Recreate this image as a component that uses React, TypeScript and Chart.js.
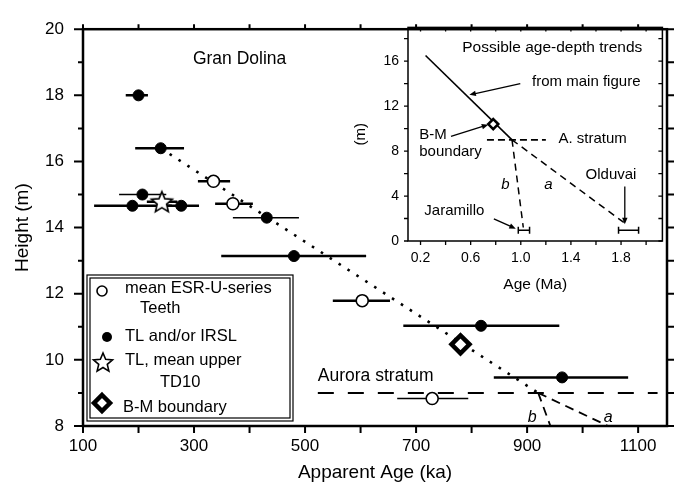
import React, { useEffect, useRef } from 'react';
import { Chart, registerables } from 'chart.js';
Chart.register(...registerables);

const FONT = '"Liberation Sans", Arial, Helvetica, sans-serif';

// ---------------- Main figure (Gran Dolina) ----------------
const tlAge = [200, 240, 207, 189, 277, 431, 480, 817, 963];
const tlHeight = [18.0, 16.4, 15.0, 14.66, 14.66, 14.3, 13.14, 11.03, 9.47];
const tlLow = [177, 194, 165, 120, 245, 370, 349, 677, 840];
const tlHigh = [217, 282, 250, 260, 309, 489, 610, 958, 1082];
const tlBarWidth = [2.5, 2.5, 1.4, 2.5, 2.5, 1.4, 2.5, 2.5, 2.5];

const esrAge = [335, 370, 603, 729];
const esrHeight = [15.4, 14.72, 11.79, 8.83];
const esrLow = [307, 338, 550, 666];
const esrHigh = [365, 406, 653, 794];
const esrBarWidth = [2.5, 2.5, 2.5, 1.4];

const starAge = [242];
const starHeight = [14.78];
const starLow = [215];
const starHigh = [270];

const bmAge = [780];
const bmHeight = [10.47];

const trendAge = [240, 920];
const trendHeight = [16.4, 9.0];
const trendAAge = [920, 1046];
const trendAHeight = [9.0, 8.0];
const trendBAge = [920, 942];
const trendBHeight = [9.0, 8.0];
const auroraAge = [523, 1135];
const auroraHeight = [9.0, 9.0];

const mainXTicks = [100, 200, 300, 400, 500, 600, 700, 800, 900, 1000, 1100];
const mainXLabels = [100, 300, 500, 700, 900, 1100];
const mainYTicks = [8, 9, 10, 11, 12, 13, 14, 15, 16, 17, 18, 19, 20];
const mainYLabels = [8, 10, 12, 14, 16, 18, 20];

// ---------------- Inset (Possible age-depth trends) ----------------
const insetTrendAge = [0.24, 0.93];
const insetTrendDepth = [16.5, 9.0];
const insetBMAge = [0.78];
const insetBMDepth = [10.4];
const insetStratumAge = [0.73, 1.2];
const insetStratumDepth = [9.0, 9.0];
const insetAAge = [0.93, 1.84];
const insetADepth = [9.0, 1.5];
const insetBAge = [0.93, 1.02];
const insetBDepth = [9.0, 1.2];
const jaramilloAge = [0.98, 1.07];
const jaramilloDepth = [0.95, 0.95];
const olduvaiAge = [1.78, 1.94];
const olduvaiDepth = [0.95, 0.95];

const insetXTicks = [0.2, 0.4, 0.6, 0.8, 1.0, 1.2, 1.4, 1.6, 1.8, 2.0];
const insetXLabels = ['0.2', '0.6', '1.0', '1.4', '1.8'];
const insetYTicks = [0, 2, 4, 6, 8, 10, 12, 14, 16, 18];
const insetYLabels = [0, 4, 8, 12, 16];

const pts = (xs: number[], ys: number[]) => xs.map((x, i) => ({ x, y: ys[i] }));

function drawStarPath(g: CanvasRenderingContext2D, cx: number, cy: number, r: number) {
  g.beginPath();
  for (let i = 0; i < 10; i++) {
    const a = -Math.PI / 2 + (i * Math.PI) / 5;
    const rr = i % 2 === 0 ? r : r * 0.45;
    const px = cx + rr * Math.cos(a);
    const py = cy + rr * Math.sin(a);
    if (i === 0) g.moveTo(px, py);
    else g.lineTo(px, py);
  }
  g.closePath();
}

function makeStar(r: number, lw: number) {
  const size = Math.ceil(2 * r + lw * 2 + 2);
  const c = document.createElement('canvas');
  c.width = size;
  c.height = size;
  const g = c.getContext('2d')!;
  drawStarPath(g, size / 2, size / 2 + r * 0.08, r);
  g.fillStyle = '#fff';
  g.fill();
  g.lineWidth = lw;
  g.strokeStyle = '#000';
  g.lineJoin = 'miter';
  g.stroke();
  return c;
}

function arrow(ctx: CanvasRenderingContext2D, x1: number, y1: number, x2: number, y2: number, head = 7, lw = 1.3) {
  ctx.save();
  ctx.strokeStyle = '#000';
  ctx.fillStyle = '#000';
  ctx.lineWidth = lw;
  const a = Math.atan2(y2 - y1, x2 - x1);
  ctx.beginPath();
  ctx.moveTo(x1, y1);
  ctx.lineTo(x2 - head * 0.7 * Math.cos(a), y2 - head * 0.7 * Math.sin(a));
  ctx.stroke();
  ctx.beginPath();
  ctx.moveTo(x2, y2);
  ctx.lineTo(x2 - head * Math.cos(a - 0.4), y2 - head * Math.sin(a - 0.4));
  ctx.lineTo(x2 - head * Math.cos(a + 0.4), y2 - head * Math.sin(a + 0.4));
  ctx.closePath();
  ctx.fill();
  ctx.restore();
}

function text(ctx: CanvasRenderingContext2D, s: string, x: number, y: number, size: number, align: CanvasTextAlign = 'left', style = '') {
  ctx.font = `${style} ${size}px ${FONT}`;
  ctx.textAlign = align;
  ctx.textBaseline = 'middle';
  ctx.fillStyle = '#000';
  ctx.fillText(s, x, y);
}

function errorBars(lo: number[], hi: number[], h: number[], w: number[]) {
  return lo.map((l, i) => ({
    data: [{ x: l, y: h[i] }, { x: hi[i], y: h[i] }],
    showLine: true,
    borderColor: '#000',
    borderWidth: w[i],
    pointRadius: 0,
    order: 10,
  }));
}

const mainPlugin = {
  id: 'mainDecor',
  afterDraw(chart: any) {
    const { ctx, chartArea: ca } = chart;
    const x = chart.scales.x;
    const y = chart.scales.y;
    ctx.save();
    ctx.strokeStyle = '#000';
    ctx.lineWidth = 2.5;
    ctx.strokeRect(ca.left, ca.top, ca.right - ca.left, ca.bottom - ca.top);
    ctx.lineWidth = 2;
    ctx.beginPath();
    mainXTicks.forEach((v) => {
      const px = x.getPixelForValue(v);
      ctx.moveTo(px, ca.bottom);
      ctx.lineTo(px, ca.bottom + 7);
      ctx.moveTo(px, ca.top);
      ctx.lineTo(px, ca.top - 5);
    });
    mainYTicks.forEach((v) => {
      const py = y.getPixelForValue(v);
      const len = mainYLabels.includes(v) ? 9 : 5;
      ctx.moveTo(ca.left, py);
      ctx.lineTo(ca.left - len, py);
      ctx.moveTo(ca.right, py);
      ctx.lineTo(ca.right + 7, py);
    });
    ctx.stroke();

    // axis titles
    text(ctx, 'Apparent Age (ka)', (ca.left + ca.right) / 2, ca.bottom + 47, 19, 'center');
    ctx.save();
    ctx.translate(23, (ca.top + ca.bottom) / 2);
    ctx.rotate(-Math.PI / 2);
    text(ctx, 'Height (m)', 0, 0, 19, 'center');
    ctx.restore();

    // annotations
    text(ctx, 'Gran Dolina', x.getPixelForValue(298), y.getPixelForValue(19.1), 17.5);
    text(ctx, 'Aurora stratum', x.getPixelForValue(523), y.getPixelForValue(9.5), 17.5);
    text(ctx, 'b', x.getPixelForValue(909), y.getPixelForValue(8.26), 16, 'center', 'italic');
    text(ctx, 'a', x.getPixelForValue(1046), y.getPixelForValue(8.26), 16, 'center', 'italic');

    // legend box
    const L = ca.left + 4;
    const T = ca.bottom - 151;
    const R = ca.left + 210;
    const B = ca.bottom - 5;
    ctx.lineWidth = 1.2;
    ctx.strokeRect(L, T, R - L, B - T);
    ctx.strokeRect(L + 3, T + 3, R - L - 6, B - T - 6);

    // legend markers
    ctx.lineWidth = 1.6;
    ctx.beginPath();
    ctx.arc(L + 15, T + 16, 5, 0, Math.PI * 2);
    ctx.fillStyle = '#fff';
    ctx.fill();
    ctx.stroke();
    ctx.beginPath();
    ctx.arc(L + 20, T + 62, 5, 0, Math.PI * 2);
    ctx.fillStyle = '#000';
    ctx.fill();
    drawStarPath(ctx, L + 16, T + 88, 10);
    ctx.fillStyle = '#fff';
    ctx.fill();
    ctx.lineWidth = 1.6;
    ctx.stroke();
    ctx.beginPath();
    ctx.moveTo(L + 15, T + 120);
    ctx.lineTo(L + 23, T + 128);
    ctx.lineTo(L + 15, T + 136);
    ctx.lineTo(L + 7, T + 128);
    ctx.closePath();
    ctx.fillStyle = '#fff';
    ctx.fill();
    ctx.lineWidth = 4.5;
    ctx.stroke();

    text(ctx, 'mean ESR-U-series', L + 38, T + 13, 16.5);
    text(ctx, 'Teeth', L + 53, T + 33, 16.5);
    text(ctx, 'TL and/or IRSL', L + 38, T + 61, 16.5);
    text(ctx, 'TL, mean upper', L + 38, T + 85, 16.5);
    text(ctx, 'TD10', L + 73, T + 107, 16.5);
    text(ctx, 'B-M boundary', L + 36, T + 132, 16.5);
    ctx.restore();
  },
};

const insetPlugin = {
  id: 'insetDecor',
  afterDraw(chart: any) {
    const { ctx, chartArea: ca } = chart;
    const x = chart.scales.x;
    const y = chart.scales.y;
    const X = (v: number) => x.getPixelForValue(v);
    const Y = (v: number) => y.getPixelForValue(v);
    ctx.save();
    ctx.strokeStyle = '#000';
    ctx.lineWidth = 1.5;
    ctx.strokeRect(ca.left, ca.top, ca.right - ca.left, ca.bottom - ca.top);
    ctx.lineWidth = 1.3;
    ctx.beginPath();
    insetXTicks.forEach((v) => {
      const px = X(v);
      ctx.moveTo(px, ca.bottom);
      ctx.lineTo(px, ca.bottom + 4);
      ctx.moveTo(px, ca.top);
      ctx.lineTo(px, ca.top + 4);
    });
    insetYTicks.forEach((v) => {
      const py = Y(v);
      ctx.moveTo(ca.left, py);
      ctx.lineTo(ca.left - 4, py);
      ctx.moveTo(ca.right, py);
      ctx.lineTo(ca.right - 4, py);
    });
    ctx.stroke();

    text(ctx, 'Age (Ma)', (ca.left + ca.right) / 2, ca.bottom + 44, 15.5, 'center');
    ctx.save();
    ctx.translate(ca.left - 47, (ca.top + ca.bottom) / 2);
    ctx.rotate(-Math.PI / 2);
    text(ctx, '(m)', 0, 0, 15, 'center');
    ctx.restore();

    text(ctx, 'Possible age-depth trends', X(1.97), Y(17.2), 15.5, 'right');
    text(ctx, 'from main figure', X(1.955), Y(14.2), 15, 'right');
    arrow(ctx, X(0.996), Y(14.0), X(0.59), Y(13.0));
    text(ctx, 'B-M', X(0.19), Y(9.4), 15);
    text(ctx, 'boundary', X(0.19), Y(7.9), 15);
    arrow(ctx, X(0.443), Y(9.3), X(0.74), Y(10.35));
    text(ctx, 'A. stratum', X(1.3), Y(9.05), 15);
    text(ctx, 'b', X(0.877), Y(5.0), 15, 'center', 'italic');
    text(ctx, 'a', X(1.22), Y(5.0), 15, 'center', 'italic');
    text(ctx, 'Olduvai', X(1.72), Y(5.9), 15, 'center');
    arrow(ctx, X(1.83), Y(4.85), X(1.83), Y(1.5));
    text(ctx, 'Jaramillo', X(0.23), Y(2.7), 15);
    arrow(ctx, X(0.785), Y(1.97), X(0.96), Y(1.1));
    ctx.restore();
  },
};

export default function App() {
  const mainRef = useRef<HTMLCanvasElement>(null);
  const insetRef = useRef<HTMLCanvasElement>(null);

  useEffect(() => {
    const starImg = makeStar(11, 1.6);
    const tickFont = { family: FONT, size: 17 };
    const main = new Chart(mainRef.current!, {
      type: 'scatter',
      data: {
        datasets: [
          {
            data: pts(bmAge, bmHeight),
            pointStyle: 'rectRot',
            pointRadius: 9,
            backgroundColor: '#fff',
            borderColor: '#000',
            borderWidth: 4.5,
            order: 0,
          },
          {
            data: pts(starAge, starHeight),
            pointStyle: starImg as any,
            order: 0,
          },
          {
            data: pts(tlAge, tlHeight),
            pointStyle: 'circle',
            pointRadius: 5.5,
            backgroundColor: '#000',
            borderColor: '#000',
            borderWidth: 1,
            order: 1,
          },
          {
            data: pts(esrAge, esrHeight),
            pointStyle: 'circle',
            pointRadius: 6,
            backgroundColor: '#fff',
            borderColor: '#000',
            borderWidth: 1.6,
            order: 1,
          },
          ...errorBars(tlLow, tlHigh, tlHeight, tlBarWidth),
          ...errorBars(esrLow, esrHigh, esrHeight, esrBarWidth),
          ...errorBars(starLow, starHigh, starHeight, [2.5]),
          {
            data: pts(trendAge, trendHeight),
            showLine: true,
            borderColor: '#000',
            borderWidth: 2.6,
            borderDash: [2.6, 8],
            pointRadius: 0,
            order: 12,
          },
          {
            data: pts(trendAAge, trendAHeight),
            showLine: true,
            borderColor: '#000',
            borderWidth: 1.8,
            borderDash: [9, 6],
            pointRadius: 0,
            order: 12,
          },
          {
            data: pts(trendBAge, trendBHeight),
            showLine: true,
            borderColor: '#000',
            borderWidth: 1.8,
            borderDash: [9, 6],
            pointRadius: 0,
            order: 12,
          },
          {
            data: pts(auroraAge, auroraHeight),
            showLine: true,
            borderColor: '#000',
            borderWidth: 2,
            borderDash: [16, 14],
            pointRadius: 0,
            order: 12,
          },
        ] as any,
      },
      options: {
        animation: false,
        responsive: false,
        events: [],
        layout: { padding: { top: 17, right: 18, left: 0, bottom: 0 } },
        plugins: { legend: { display: false }, tooltip: { enabled: false } },
        scales: {
          x: {
            type: 'linear',
            min: 100,
            max: 1152,
            afterBuildTicks: (s: any) => {
              s.ticks = mainXTicks.map((v) => ({ value: v }));
            },
            afterFit: (s: any) => {
              s.height = 67;
            },
            grid: { display: false, drawTicks: false },
            border: { display: false },
            ticks: {
              autoSkip: false,
              maxRotation: 0,
              padding: 10,
              color: '#000',
              font: tickFont,
              callback: (v: any) => (mainXLabels.includes(Number(v)) ? String(v) : ''),
            },
          },
          y: {
            type: 'linear',
            min: 8,
            max: 20,
            afterBuildTicks: (s: any) => {
              s.ticks = mainYTicks.map((v) => ({ value: v }));
            },
            afterFit: (s: any) => {
              s.width = 83;
            },
            grid: { display: false, drawTicks: false },
            border: { display: false },
            ticks: {
              autoSkip: false,
              padding: 19,
              color: '#000',
              font: tickFont,
              callback: (v: any) => (mainYLabels.includes(Number(v)) ? String(v) : ''),
            },
          },
        },
      },
      plugins: [mainPlugin],
    } as any);

    const insetFont = { family: FONT, size: 14 };
    const inset = new Chart(insetRef.current!, {
      type: 'scatter',
      data: {
        datasets: [
          {
            data: pts(insetBMAge, insetBMDepth),
            pointStyle: 'rectRot',
            pointRadius: 5,
            backgroundColor: '#fff',
            borderColor: '#000',
            borderWidth: 2.6,
            order: 0,
          },
          {
            data: pts(insetTrendAge, insetTrendDepth),
            showLine: true,
            borderColor: '#000',
            borderWidth: 1.6,
            pointRadius: 0,
            order: 5,
          },
          {
            data: pts(insetStratumAge, insetStratumDepth),
            showLine: true,
            borderColor: '#000',
            borderWidth: 1.8,
            borderDash: [7, 4],
            pointRadius: 0,
            order: 5,
          },
          {
            data: pts(insetAAge, insetADepth),
            showLine: true,
            borderColor: '#000',
            borderWidth: 1.5,
            borderDash: [7, 5],
            pointRadius: 0,
            order: 5,
          },
          {
            data: pts(insetBAge, insetBDepth),
            showLine: true,
            borderColor: '#000',
            borderWidth: 1.5,
            borderDash: [7, 5],
            pointRadius: 0,
            order: 5,
          },
          {
            data: pts(jaramilloAge, jaramilloDepth),
            showLine: true,
            borderColor: '#000',
            borderWidth: 1.5,
            pointStyle: 'line',
            rotation: 90,
            pointRadius: 3.5,
            pointBorderWidth: 1.5,
            order: 5,
          },
          {
            data: pts(olduvaiAge, olduvaiDepth),
            showLine: true,
            borderColor: '#000',
            borderWidth: 1.5,
            pointStyle: 'line',
            rotation: 90,
            pointRadius: 3.5,
            pointBorderWidth: 1.5,
            order: 5,
          },
        ] as any,
      },
      options: {
        animation: false,
        responsive: false,
        events: [],
        layout: { padding: { top: 12, right: 5, left: 0, bottom: 0 } },
        plugins: { legend: { display: false }, tooltip: { enabled: false } },
        scales: {
          x: {
            type: 'linear',
            min: 0.1,
            max: 2.13,
            afterBuildTicks: (s: any) => {
              s.ticks = insetXTicks.map((v) => ({ value: v }));
            },
            afterFit: (s: any) => {
              s.height = 59;
            },
            grid: { display: false, drawTicks: false },
            border: { display: false },
            ticks: {
              autoSkip: false,
              maxRotation: 0,
              padding: 9,
              color: '#000',
              font: insetFont,
              callback: (v: any) => {
                const s = Number(v).toFixed(1);
                return insetXLabels.includes(s) ? s : '';
              },
            },
          },
          y: {
            type: 'linear',
            min: 0,
            max: 19,
            afterBuildTicks: (s: any) => {
              s.ticks = insetYTicks.map((v) => ({ value: v }));
            },
            afterFit: (s: any) => {
              s.width = 63;
            },
            grid: { display: false, drawTicks: false },
            border: { display: false },
            ticks: {
              autoSkip: false,
              padding: 9,
              color: '#000',
              font: insetFont,
              callback: (v: any) => (insetYLabels.includes(Number(v)) ? String(v) : ''),
            },
          },
        },
      },
      plugins: [insetPlugin],
    } as any);

    return () => {
      main.destroy();
      inset.destroy();
    };
  }, []);

  return (
    <div style={{ position: 'absolute', left: 0, top: 0, width: 685, height: 493, background: '#fff' }}>
      <canvas ref={mainRef} width={685} height={493} style={{ position: 'absolute', left: 0, top: 0 }} />
      <canvas ref={insetRef} width={325} height={290} style={{ position: 'absolute', left: 345, top: 10 }} />
    </div>
  );
}
